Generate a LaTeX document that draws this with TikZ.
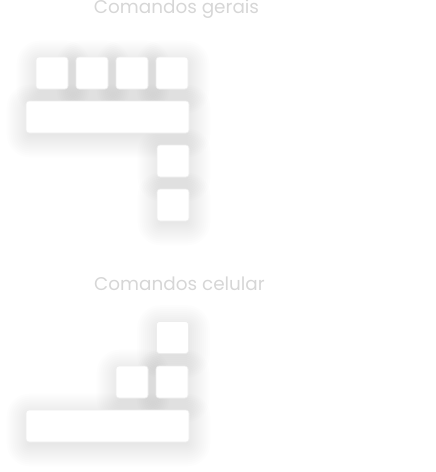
\documentclass[tikz,border=0pt]{standalone}
\usepackage{fontspec}
\setmainfont{Poppins}
\pgfdeclarelayer{bg}
\pgfsetlayers{bg,main}
\definecolor{titlegray}{HTML}{D6D6D6}
\definecolor{keyedge}{HTML}{EDEDED}
\tikzset{
  keybase/.style={rectangle, rounded corners=3pt, fill=white, draw=keyedge, line width=0.6pt, inner sep=0pt},
  keysq/.style={keybase, minimum width=32pt, minimum height=32pt},
  keybar/.style={keybase, minimum width=163pt, minimum height=32pt},
  title/.style={text=titlegray, font=\fontsize{18.4}{22}\selectfont, inner sep=0pt},
  shadowlayer/.style={fill=black, opacity=0.009}
}
\newcommand\softshadow[1]{%
  \begin{pgfonlayer}{bg}
  \foreach \i in {-4,-2,...,20}{%
    \fill[shadowlayer, rounded corners={max(3pt+\i pt,1pt)}]
      ([xshift={1pt-\i pt}, yshift={-4pt-\i pt}]#1.south west) rectangle
      ([xshift={1pt+\i pt}, yshift={-4pt+\i pt}]#1.north east);
  }
  \end{pgfonlayer}}
\begin{document}
\begin{tikzpicture}[x=1pt, y=-1pt]
\useasboundingbox (0,0) rectangle (436,472);
\node[title] (t1) at (176.5,9) {Comandos gerais};
\node[keysq] (k1) at (52,73) {};
\node[keysq] (k2) at (92,73) {};
\node[keysq] (k3) at (132,73) {};
\node[keysq] (k4) at (172,73) {};
\node[keybar] (b1) at (107.5,117) {};
\node[keysq] (k5) at (173,161) {};
\node[keysq] (k6) at (173,205) {};
\node[title] (t2) at (179.5,284) {Comandos celular};
\node[keysq] (c1) at (172.5,337.5) {};
\node[keysq] (c2) at (132,382) {};
\node[keysq] (c3) at (172,382) {};
\node[keybar] (b2) at (107.5,426) {};
\foreach \n in {k1,k2,k3,k4,b1,k5,k6,c1,c2,c3,b2}{\softshadow{\n}}
\end{tikzpicture}
\end{document}
